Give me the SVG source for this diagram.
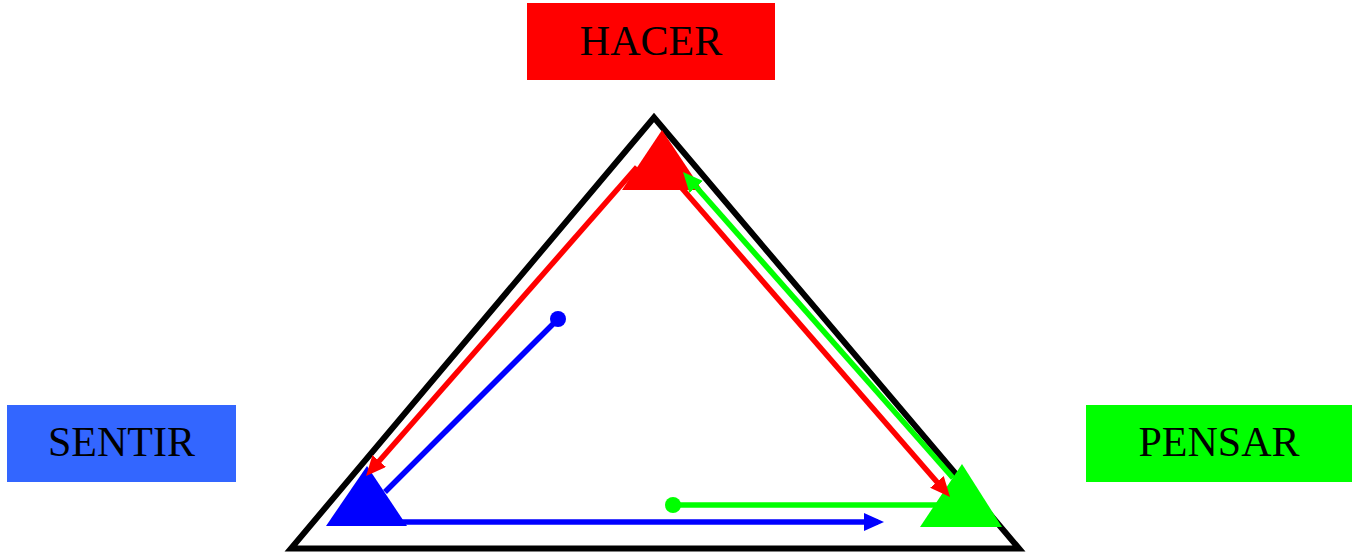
<svg xmlns="http://www.w3.org/2000/svg" width="1352" height="552" viewBox="0 0 1352 552">
<style>
.lbl{font-family:"Liberation Serif","Times New Roman",serif;font-size:42px;fill:#000;text-anchor:middle}
.ln{fill:none;stroke-width:5.5}
</style>
<defs>
<marker id="arR" markerUnits="userSpaceOnUse" markerWidth="20" markerHeight="18" viewBox="0 0 20 18" refX="14" refY="9" orient="auto"><path d="M0,0 L20,9 L0,18 z" fill="#ff0000"/></marker>
<marker id="arG" markerUnits="userSpaceOnUse" markerWidth="20" markerHeight="18" viewBox="0 0 20 18" refX="14" refY="9" orient="auto"><path d="M0,0 L20,9 L0,18 z" fill="#00ff00"/></marker>
<marker id="arB" markerUnits="userSpaceOnUse" markerWidth="20" markerHeight="18" viewBox="0 0 20 18" refX="14" refY="9" orient="auto"><path d="M0,0 L20,9 L0,18 z" fill="#0000ff"/></marker>
</defs>
<rect width="1352" height="552" fill="#fff"/>
<g id="frame">
<polygon points="654,117.5 291,548.5 1019,548.5" fill="none" stroke="#000" stroke-width="6"/>
</g>
<g id="hacer">
<rect x="527" y="3" width="248" height="77" fill="#ff0000"/>
<text class="lbl" x="651" y="55">HACER</text>
</g>
<g id="sentir">
<rect x="7" y="405" width="229" height="77" fill="#3366ff"/>
<text class="lbl" x="121.5" y="456">SENTIR</text>
</g>
<g id="pensar">
<rect x="1086" y="405" width="266" height="77" fill="#00ff00"/>
<text class="lbl" x="1219" y="456">PENSAR</text>
</g>
<g id="tri-hacer"><polygon points="662,130 622,190 702,190" fill="#ff0000"/></g>
<g id="tri-sentir"><polygon points="367,466 326,526 407,526" fill="#0000ff"/></g>
<g id="tri-pensar"><polygon points="962,464 920,527 1002,527" fill="#00ff00"/></g>
<g id="connectors">
<line class="ln" x1="637" y1="167" x2="370" y2="471.5" stroke="#ff0000" marker-end="url(#arR)"/>
<line class="ln" x1="680" y1="186" x2="946.1" y2="492.5" stroke="#ff0000" marker-end="url(#arR)"/>
<line class="ln" x1="953" y1="478" x2="687" y2="176.5" stroke="#00ff00" marker-end="url(#arG)"/>
<line class="ln" x1="558" y1="319" x2="385" y2="492" stroke="#0000ff"/>
<circle cx="558" cy="319" r="8" fill="#0000ff"/>
<line class="ln" x1="400" y1="522" x2="878" y2="522" stroke="#0000ff" marker-end="url(#arB)"/>
<line class="ln" x1="673" y1="505" x2="945" y2="505" stroke="#00ff00"/>
<circle cx="673" cy="505" r="8" fill="#00ff00"/>
</g>
</svg>
